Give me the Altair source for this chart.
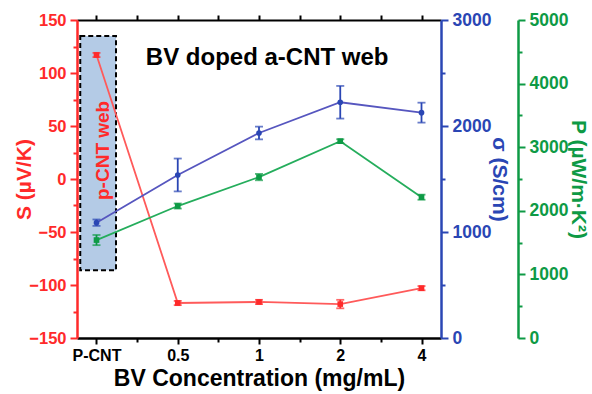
import altair as alt
import pandas as pd

# Categories on the x axis (BV concentration) and their plotting index
categories = ["P-CNT", "0.5", "1", "2", "4"]
x_index = [0, 1, 2, 3, 4]

# Seebeck coefficient S (µV/K) and its error
seebeck = [117, -117, -116, -118, -103]
seebeck_err = [2, 2, 2, 4, 2]

# Electrical conductivity sigma (S/cm) and its error
sigma = [1088, 1538, 1934, 2224, 2126]
sigma_err = [30, 155, 60, 154, 94]

# Power factor P (µW/m·K²) and its error
power = [1540, 2075, 2530, 3095, 2214]
power_err = [80, 40, 50, 30, 40]

# Annotations: dashed box around the p-CNT reference point, box label and panel label
box_x = [-0.2, 0.24]
box_s = [-86, 135]
box_label = "p-CNT web"
box_label_pos = [0.08, 27]
panel_label = "BV doped a-CNT web"
panel_label_pos = [2.1, 114]

FONT = "Liberation Sans"
RED = "#ff2a2a"
RED_LINE = "#ff5a5a"
BLUE = "#2a46b4"
BLUE_LINE = "#5656bf"
GREEN = "#0e9a45"
GREEN_LINE = "#25ad5c"

df = pd.DataFrame({
    "x": x_index,
    "cat": categories,
    "S": seebeck,
    "S_lo": [v - e for v, e in zip(seebeck, seebeck_err)],
    "S_hi": [v + e for v, e in zip(seebeck, seebeck_err)],
    "sig": sigma,
    "sig_lo": [v - e for v, e in zip(sigma, sigma_err)],
    "sig_hi": [v + e for v, e in zip(sigma, sigma_err)],
    "P": power,
    "P_lo": [v - e for v, e in zip(power, power_err)],
    "P_hi": [v + e for v, e in zip(power, power_err)],
})

x_scale = alt.Scale(domain=[-0.24, 4.24], nice=False, zero=False)
x_major = list(range(len(categories)))
x_minor = [i + 0.5 for i in range(len(categories) - 1)]
cat_js = "[" + ",".join(f"'{c}'" for c in categories) + "]"

x_bottom = alt.Axis(
    orient="bottom", title="BV Concentration (mg/mL)", values=x_major,
    labelExpr=f"{cat_js}[datum.value]",
    grid=False, domainColor="black", domainWidth=2.5, tickColor="black", tickWidth=2, tickSize=6,
    labelFont=FONT, labelFontSize=16, labelFontWeight="bold", labelColor="black",
    labelPadding=3, labelFlush=False, labelOverlap=False,
    titleFont=FONT, titleFontSize=23, titleFontWeight="bold", titleColor="black",
    titlePadding=4,
)
x_bottom_minor = alt.Axis(
    orient="bottom", title=None, values=x_minor, labels=False, grid=False, domain=False,
    tickColor="black", tickWidth=2, tickSize=4,
)
x_top = alt.Axis(
    orient="top", title=None, values=sorted(x_major + x_minor), labels=False, grid=False,
    domainColor="black", domainWidth=2, tickColor="black", tickWidth=2, tickSize=5,
)


def y_axes(title, color, major, minor, orient, label_size, title_pad, offset=0):
    main = alt.Axis(
        orient=orient, offset=offset, title=title, values=major,
        grid=False, domainColor=color, domainWidth=2.5, tickColor=color, tickWidth=2, tickSize=7,
        labelFont=FONT, labelFontSize=label_size, labelFontWeight="bold", labelColor=color,
        labelPadding=4, labelOverlap=False, format="d",
        titleFont=FONT, titleFontSize=21, titleFontWeight="bold", titleColor=color,
        titlePadding=title_pad,
    )
    small = alt.Axis(
        orient=orient, offset=offset, title=None, values=minor, labels=False, grid=False,
        domain=False, tickColor=color, tickWidth=2, tickSize=4,
    )
    return main, small


def series(field, lo, hi, scale, axes, line_color, mark_color, shape):
    main_axis, minor_axis = axes
    base = alt.Chart(df)
    xe = alt.X("x:Q", scale=x_scale, axis=None)
    line = base.mark_line(color=line_color, strokeWidth=1.8).encode(
        x=xe, y=alt.Y(f"{field}:Q", scale=scale, axis=main_axis),
    )
    minor = base.mark_point(opacity=0).encode(
        x=xe, y=alt.Y(f"{field}:Q", scale=scale, axis=minor_axis),
    )
    bars = base.mark_rule(color=mark_color, strokeWidth=1.8).encode(
        x=xe, y=alt.Y(f"{lo}:Q", scale=scale, axis=None), y2=f"{hi}:Q",
    )
    cap_lo = base.mark_tick(color=mark_color, orient="horizontal", size=8, thickness=1.8).encode(
        x=xe, y=alt.Y(f"{lo}:Q", scale=scale, axis=None),
    )
    cap_hi = base.mark_tick(color=mark_color, orient="horizontal", size=8, thickness=1.8).encode(
        x=xe, y=alt.Y(f"{hi}:Q", scale=scale, axis=None),
    )
    pts = base.mark_point(color=mark_color, filled=True, shape=shape, size=32, opacity=1).encode(
        x=xe, y=alt.Y(f"{field}:Q", scale=scale, axis=None),
    )
    return [minor, line, bars, cap_lo, cap_hi, pts]


s_scale = alt.Scale(domain=[-150, 150], nice=False, zero=False)
sig_scale = alt.Scale(domain=[0, 3000], nice=False)
p_scale = alt.Scale(domain=[0, 5000], nice=False)

s_axes = y_axes("S (µV/K)", RED, list(range(-150, 151, 50)), list(range(-125, 150, 50)), "left", 16.5, -6)
sig_axes = y_axes("σ (S/cm)", BLUE, list(range(0, 3001, 1000)), list(range(500, 3000, 1000)), "right", 17.5, -2)
p_axes = y_axes("P (µW/m·K²)", GREEN, list(range(0, 5001, 1000)), list(range(500, 5000, 1000)), "right", 17.5, 0, offset=77)

# Dashed box marking the pristine p-CNT web
box_df = pd.DataFrame({"x1": [box_x[0]], "x2": [box_x[1]], "y1": [box_s[0]], "y2": [box_s[1]]})
box = alt.Chart(box_df).mark_rect(
    fill="#b4cbe6", stroke="black", strokeDash=[5, 3], strokeWidth=2
).encode(
    x=alt.X("x1:Q", scale=x_scale, axis=None), x2="x2:Q",
    y=alt.Y("y1:Q", scale=s_scale, axis=None), y2="y2:Q",
)
box_text = alt.Chart(pd.DataFrame({"x": [box_label_pos[0]], "y": [box_label_pos[1]], "t": [box_label]})).mark_text(
    angle=270, font=FONT, fontSize=19, fontWeight="bold", color=RED, align="center", baseline="middle"
).encode(
    x=alt.X("x:Q", scale=x_scale, axis=None),
    y=alt.Y("y:Q", scale=s_scale, axis=None),
    text="t:N",
)
panel_text = alt.Chart(pd.DataFrame({"x": [panel_label_pos[0]], "y": [panel_label_pos[1]], "t": [panel_label]})).mark_text(
    font=FONT, fontSize=24, fontWeight="bold", color="black", align="center", baseline="middle"
).encode(
    x=alt.X("x:Q", scale=x_scale, axis=None),
    y=alt.Y("y:Q", scale=s_scale, axis=None),
    text="t:N",
)

red_group = alt.layer(
    box, box_text, panel_text,
    *series("S", "S_lo", "S_hi", s_scale, s_axes, RED_LINE, RED, "square"),
).resolve_axis(y="independent")
blue_group = alt.layer(
    *series("sig", "sig_lo", "sig_hi", sig_scale, sig_axes, BLUE_LINE, BLUE, "circle")
).resolve_axis(y="independent")
green_group = alt.layer(
    *series("P", "P_lo", "P_hi", p_scale, p_axes, GREEN_LINE, GREEN, "square")
).resolve_axis(y="independent")

# Frame axes along the bottom and top edges
frame = alt.layer(
    *[
        alt.Chart(df).mark_point(opacity=0).encode(x=alt.X("x:Q", scale=x_scale, axis=ax))
        for ax in (x_bottom, x_bottom_minor, x_top)
    ]
).resolve_axis(x="independent")

chart = alt.layer(red_group, blue_group, green_group, frame).resolve_scale(
    y="independent"
).resolve_axis(
    x="independent"
).properties(
    width=364, height=318,
    autosize=alt.AutoSizeParams(type="none"),
    padding={"left": 77, "top": 20, "right": 151, "bottom": 56},
).configure_view(stroke=None)

chart.save("out.html", embed_options={"renderer": "svg", "actions": False})
